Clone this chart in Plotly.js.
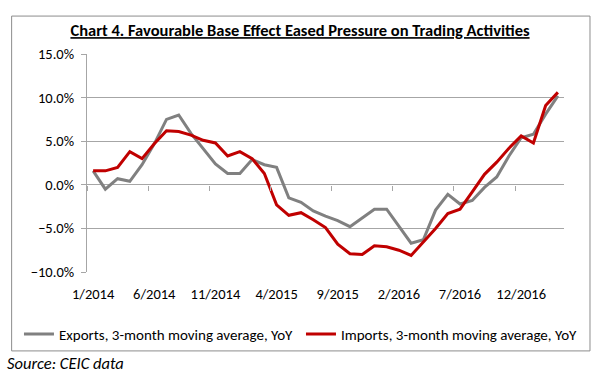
<!DOCTYPE html>
<html>
<head>
<meta charset="utf-8">
<script src="https://cdn.plot.ly/plotly-3.0.1.min.js"></script>
<style>html,body{margin:0;padding:0;background:#fff;}#chart{width:600px;height:379px;}</style>
</head>
<body>
<div id="chart"></div>
<script>
var months = ["1/2014","2/2014","3/2014","4/2014","5/2014","6/2014","7/2014","8/2014","9/2014","10/2014","11/2014","12/2014",
"1/2015","2/2015","3/2015","4/2015","5/2015","6/2015","7/2015","8/2015","9/2015","10/2015","11/2015","12/2015",
"1/2016","2/2016","3/2016","4/2016","5/2016","6/2016","7/2016","8/2016","9/2016","10/2016","11/2016","12/2016",
"1/2017","2/2017","3/2017"];
var exportsYoY = [1.6,-0.5,0.7,0.4,2.3,4.7,7.5,8.0,5.9,4.2,2.4,1.3,
1.3,2.9,2.3,2.0,-1.5,-2.0,-3.0,-3.6,-4.1,-4.8,-3.8,-2.8,
-2.8,-4.7,-6.7,-6.3,-2.9,-1.1,-2.2,-1.8,-0.3,0.9,3.3,5.4,
5.8,8.1,10.2];
var importsYoY = [1.6,1.6,2.0,3.8,3.0,4.7,6.2,6.1,5.7,5.1,4.8,3.3,
3.8,3.0,1.3,-2.3,-3.5,-3.2,-4.0,-4.9,-6.8,-7.9,-8.0,-7.0,
-7.1,-7.5,-8.1,-6.6,-5.0,-3.3,-2.8,-0.8,1.2,2.6,4.2,5.6,
4.8,9.1,10.6];
var seriesNames = ["Exports, 3-month moving average, YoY","Imports, 3-month moving average, YoY"];
var titleText = "Chart 4. Favourable Base Effect Eased Pressure on Trading Activities";
var sourceText = "Source: CEIC data";

var FONT = "Carlito, Calibri, Lato, 'Open Sans', sans-serif";
var GRID = "#a6a6a6";

var traces = [
  {x: months, y: exportsYoY, type: "scatter", mode: "lines", name: seriesNames[0],
   line: {color: "#808080", width: 3}, hoverinfo: "skip", legend: "legend"},
  {x: months, y: importsYoY, type: "scatter", mode: "lines", name: seriesNames[1],
   line: {color: "#c00000", width: 3}, hoverinfo: "skip", legend: "legend2"},
  {x: months, y: months.map(function(){return null;}), type: "scatter", mode: "lines",
   xaxis: "x2", showlegend: false, hoverinfo: "skip", line: {width: 0}}
];

var legendCommon = {orientation: "h", xanchor: "left", y: -0.21, yanchor: "top",
  font: {family: FONT, size: 15, color: "#000"}, itemwidth: 30, bgcolor: "rgba(0,0,0,0)"};

var layout = {
  width: 600, height: 379,
  margin: {l: 87, r: 36, t: 54, b: 107},
  paper_bgcolor: "#fff", plot_bgcolor: "#fff",
  font: {family: FONT, size: 14.5, color: "#000"},
  showlegend: true,
  title: {text: "<b><u>" + titleText + "</u></b>", x: 0.5, xref: "container", xanchor: "center",
          y: 0.92, yanchor: "middle", font: {family: FONT, size: 16.5, color: "#000"}},
  xaxis: {type: "category", range: [-0.5, 38.5], tickmode: "linear", tick0: 0, dtick: 5,
          showgrid: false, zeroline: false, showline: false, ticks: "",
          ticklabelstandoff: 11, tickfont: {family: FONT, size: 14.5}, fixedrange: true},
  xaxis2: {type: "category", overlaying: "x", anchor: "free", position: 0.4, side: "bottom",
           range: [-0.5, 38.5], tickmode: "linear", tick0: 0, dtick: 5, tickson: "boundaries",
           ticks: "outside", ticklen: 5, tickcolor: GRID, tickwidth: 1,
           showline: false, showgrid: false, zeroline: false, showticklabels: false},
  yaxis: {range: [-10, 15], dtick: 5, tick0: 0, tickformat: ".1f", ticksuffix: "%",
          showgrid: true, gridcolor: GRID, gridwidth: 1, zeroline: false,
          showline: true, linecolor: GRID, linewidth: 1,
          ticks: "outside", ticklen: 5, tickcolor: GRID, ticklabelstandoff: 4,
          tickfont: {family: FONT, size: 14.5}, fixedrange: true},
  legend: Object.assign({x: -0.1426}, legendCommon),
  legend2: Object.assign({x: 0.4486}, legendCommon),
  shapes: [
    {type: "rect", xref: "paper", yref: "paper", x0: -0.158, x1: 1.0545, y0: -0.362, y1: 1.174,
     line: {color: "#8c8c8c", width: 1}, fillcolor: "rgba(0,0,0,0)", layer: "below"}
  ],
  annotations: [
    {text: "<i>" + sourceText + "</i>", xref: "paper", yref: "paper", x: -0.172, xanchor: "left",
     y: -0.417, yanchor: "middle", showarrow: false, font: {family: FONT, size: 16.5, color: "#000"}}
  ]
};

Plotly.newPlot("chart", traces, layout, {displayModeBar: false, staticPlot: true});
</script>
</body>
</html>
